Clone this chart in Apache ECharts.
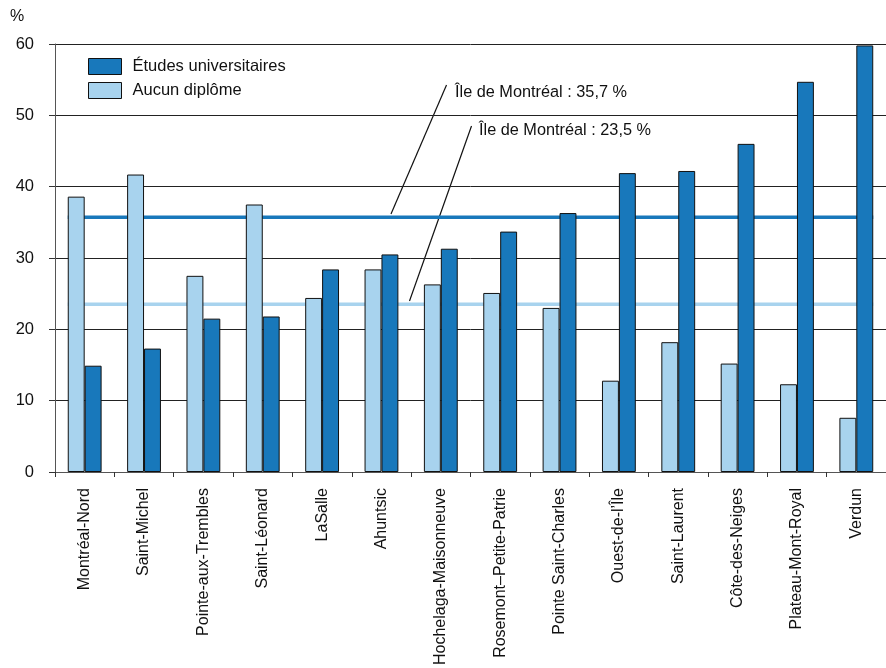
<!DOCTYPE html>
<html>
<head>
<meta charset="utf-8">
<script src="https://cdn.jsdelivr.net/npm/echarts@6/dist/echarts.min.js"></script>
<style>
html,body{margin:0;padding:0;background:#fff;}
#c{width:886px;height:668px;}
</style>
</head>
<body>
<div id="c"></div>
<script>
const categories = ['Montréal-Nord','Saint-Michel','Pointe-aux-Trembles','Saint-Léonard','LaSalle','Ahuntsic','Hochelaga-Maisonneuve','Rosemont–Petite-Patrie','Pointe Saint-Charles','Ouest-de-l\u2019Île','Saint-Laurent','Côte-des-Neiges','Plateau-Mont-Royal','Verdun'];
const aucunDiplome = [38.6,41.7,27.5,37.5,24.4,28.4,26.3,25.1,23.0,12.8,18.2,15.2,12.3,7.6];
const etudesUniv = [14.9,17.3,21.5,21.8,28.4,30.5,31.3,33.7,36.3,41.9,42.2,46.0,54.7,59.8];
const moyenneUniv = [35.7];
const moyenneAucun = [23.5];
const yTicks = [0,10,20,30,40,50,60];

const DARK = '#1878bb';
const LIGHT = '#a8d3ee';
const GAP = 0.43;
const txtFont = "'Liberation Sans', Arial, sans-serif";

function fmt(v){ return v.toFixed(1).replace('.', ','); }

function refLine(color){
  return function(params, api){
    const v = api.value(1);
    const first = api.coord([0, v]);
    const last = api.coord([categories.length - 1, v]);
    const half = api.size([1, 0])[0] * (1 - GAP) / 2;
    return {
      type: 'line',
      shape: {x1: first[0] - half, y1: first[1], x2: last[0] + half, y2: last[1]},
      style: {stroke: color, lineWidth: 3.5}
    };
  };
}

const chart = echarts.init(document.getElementById('c'), null, {renderer: 'canvas'});
chart.setOption({
  animation: false,
  backgroundColor: '#fff',
  grid: {left: 55, right: 0, top: 44, bottom: 194, containLabel: false},
  legend: {
    orient: 'vertical', left: 88, top: 58, padding: 0,
    itemWidth: 33, itemHeight: 16, itemGap: 7,
    icon: 'rect',
    data: ['Études universitaires', 'Aucun diplôme'],
    itemStyle: {borderColor: '#111', borderWidth: 1},
    textStyle: {fontFamily: txtFont, fontSize: 16.5, color: '#111', padding: [0,0,0,6]},
    selectedMode: false
  },
  xAxis: {
    type: 'category', data: categories,
    axisLine: {lineStyle: {color: '#555', width: 1}},
    axisTick: {show: true, length: 5, lineStyle: {color: '#333'}},
    axisLabel: {rotate: 90, interval: 0, margin: 16, fontFamily: txtFont, fontSize: 16, color: '#111'}
  },
  yAxis: {
    type: 'value', min: 0, max: 60, interval: 10,
    axisLine: {show: true, lineStyle: {color: '#555', width: 1}},
    axisTick: {show: true, length: 6, lineStyle: {color: '#333'}},
    axisLabel: {margin: 21, fontFamily: txtFont, fontSize: 16.5, color: '#111',
      formatter: function(v){ return yTicks.indexOf(v) >= 0 ? String(v) : ''; }},
    splitLine: {lineStyle: {color: '#222', width: 1}}
  },
  series: [
    {
      type: 'custom', name: 'refUniv', z: 1, silent: true,
      renderItem: refLine(DARK), encode: {x: 0, y: 1},
      data: [[0, moyenneUniv[0]]]
    },
    {
      type: 'custom', name: 'refAucun', z: 1, silent: true,
      renderItem: refLine(LIGHT), encode: {x: 0, y: 1},
      data: [[0, moyenneAucun[0]]]
    },
    {
      type: 'bar', name: 'Aucun diplôme', data: aucunDiplome, z: 3,
      barGap: '0%', barCategoryGap: (GAP * 100) + '%',
      itemStyle: {color: LIGHT, borderColor: '#111', borderWidth: 1}
    },
    {
      type: 'bar', name: 'Études universitaires', data: etudesUniv, z: 3,
      barGap: '0%', barCategoryGap: (GAP * 100) + '%',
      itemStyle: {color: DARK, borderColor: '#111', borderWidth: 1}
    }
  ],
  graphic: [
    {type: 'text', left: 10, top: 9, style: {text: '%', fontFamily: txtFont, fontSize: 16, fill: '#111'}},
    {type: 'line', shape: {x1: 446.5, y1: 85, x2: 391, y2: 214}, style: {stroke: '#111', lineWidth: 1.2}},
    {type: 'line', shape: {x1: 471.5, y1: 126, x2: 409.5, y2: 301}, style: {stroke: '#111', lineWidth: 1.2}},
    {type: 'text', x: 455, y: 93, style: {text: 'Île de Montréal : ' + fmt(moyenneUniv[0]) + ' %', fontFamily: txtFont, fontSize: 16.3, fill: '#111', verticalAlign: 'middle'}},
    {type: 'text', x: 479, y: 131, style: {text: 'Île de Montréal : ' + fmt(moyenneAucun[0]) + ' %', fontFamily: txtFont, fontSize: 16.3, fill: '#111', verticalAlign: 'middle'}}
  ]
});
</script>
</body>
</html>
